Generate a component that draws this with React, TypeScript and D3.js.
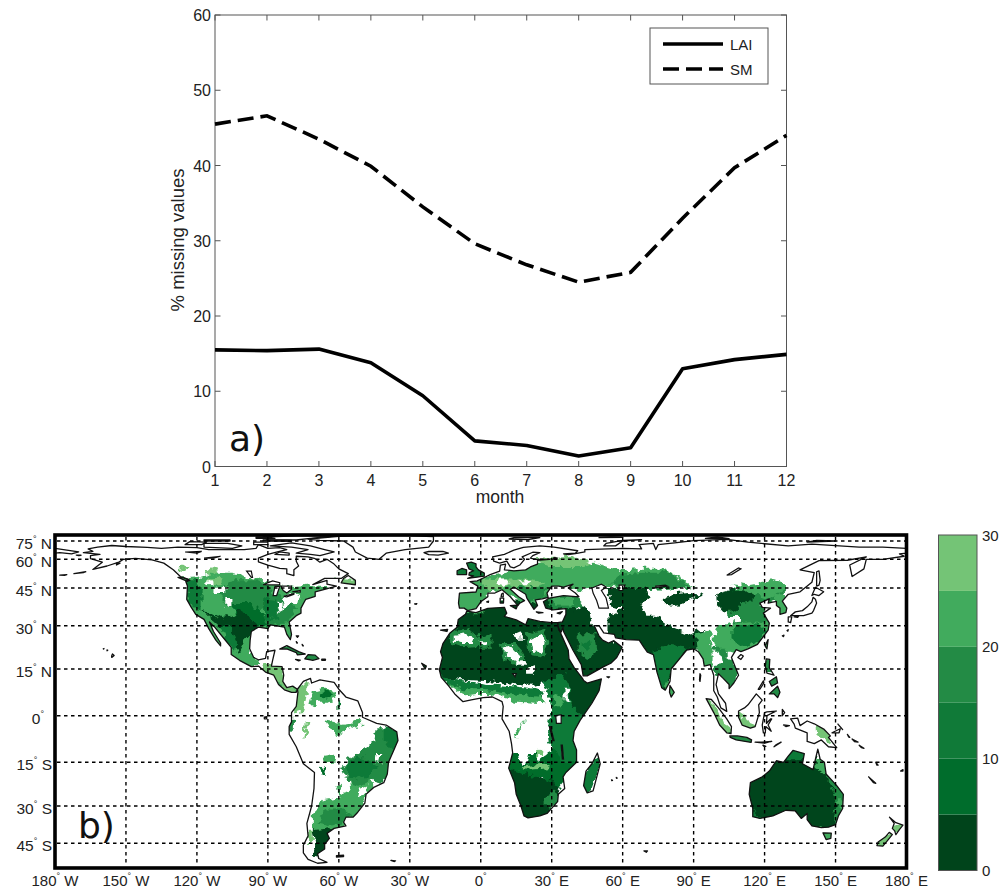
import React from "react";
import * as d3 from "d3";

const months = [1, 2, 3, 4, 5, 6, 7, 8, 9, 10, 11, 12];
const lai = [15.5, 15.4, 15.6, 13.8, 9.4, 3.4, 2.8, 1.4, 2.5, 13.0, 14.2, 14.9];
const sm = [45.5, 46.6, 43.5, 39.9, 34.5, 29.6, 26.8, 24.5, 25.8, 33.0, 39.7, 44.0];
const yTicks = [0, 10, 20, 30, 40, 50, 60];

const lonTicks = [-180, -150, -120, -90, -60, -30, 0, 30, 60, 90, 120, 150, 180];
const latTicks = [75, 60, 45, 30, 15, 0, -15, -30, -45];
const latKnots = [84, 75, 60, 45, 30, 15, 0, -15, -30, -45, -58];
const latPixels = [535, 541, 559.3, 588, 625.7, 669, 715.7, 762.3, 806, 843.3, 868];

const barEdges = [0, 5, 10, 15, 20, 25, 30];
const barTicks = [0, 10, 20, 30];
const palette = ["#00441b", "#006d2c", "#107a38", "#238b45", "#41ab5d", "#74c476"];
type P = number[][];

const continents: P[] = [
  [[-168,65.5],[-164,66.5],[-166,68.5],[-162,70],[-156,71.3],[-150,70.5],[-141,69.7],[-135,69],[-128,70],[-120,69.5],[-115,68],[-108,68],[-100,68],[-95,69],[-94,72],[-90,69],[-85,69.5],[-82,68],[-86,66],[-90,64],[-94,61],[-94,58.7],[-90,57],[-85,55.3],[-82,55],[-82,52.5],[-79,51.5],[-79,54.5],[-77,56.5],[-78,59],[-78,62.5],[-73,62],[-70,60.5],[-68,58.5],[-65,60],[-62,57.5],[-60,55],[-56,52.5],[-59,50],[-66,50],[-71,46.8],[-65,49],[-65,47],[-61,46],[-66,44.5],[-70,43.5],[-70,41.7],[-74,40.5],[-76,37],[-76,35],[-78,34],[-81,31.5],[-80,27],[-80.5,25.2],[-82,27],[-83,29.5],[-85,29.8],[-89,30.3],[-90,29],[-94,29.5],[-97,28],[-97.5,25],[-97.7,22],[-96,19],[-94,18.2],[-91,18.7],[-90.5,21],[-87,21.5],[-88,18],[-88.5,16],[-84,15.8],[-83.3,13],[-83.7,11],[-82,9],[-79.5,9.5],[-77.5,8.5],[-78,7.5],[-80,7.5],[-83,8.3],[-85.5,10],[-87.5,13],[-91,14],[-94,16],[-97,15.8],[-102,18],[-105.5,20],[-105.5,22.5],[-109,26],[-112.5,29.5],[-114.7,31.5],[-113,28],[-110,24],[-110,23],[-112,25],[-115,29],[-117,32.5],[-120.5,34.5],[-122.5,37.5],[-124.3,40.5],[-124,46],[-124.7,48.4],[-123,49],[-127,51],[-130,54.5],[-134,58],[-139,59.7],[-146,60.8],[-151,60],[-153,58.5],[-158,56.5],[-164,54.7],[-160,58.5],[-165,60.5],[-165,63],[-161,64]],
  [[-73,78],[-60,82],[-35,83.5],[-20,81.5],[-20,75],[-22,70],[-32,68],[-40,65],[-43,60],[-48,61],[-53,66],[-54,70],[-58,75],[-68,76]],
  [[-77.5,8.5],[-75,11],[-72,12],[-71.5,10.5],[-68,11.5],[-62,10.7],[-60,8.5],[-57,6],[-52,4.8],[-50,1],[-50,-0.5],[-44,-2.5],[-40,-3],[-35.5,-5.2],[-35,-8],[-37,-11.5],[-39,-15],[-39.5,-19],[-41,-22],[-45,-23.5],[-48.5,-26],[-49,-29],[-52,-32.5],[-54,-34.5],[-57,-34.5],[-58,-36.5],[-57,-38],[-62,-39],[-65,-41],[-64,-43],[-66,-45.5],[-66,-48],[-69,-50.5],[-68.5,-53],[-65,-55],[-69,-55.5],[-73,-53.5],[-75,-50],[-75,-46],[-73,-42],[-73.5,-37],[-71.5,-30],[-70.5,-24],[-70.3,-18.5],[-75,-15.5],[-78,-10],[-81,-6],[-81,-3.5],[-80,-2],[-80,1],[-78,3],[-77.3,7.5]],
  [[-5.9,35.8],[-2,35.2],[3,36.9],[10,37.3],[11,35],[10,33.7],[15,32.3],[19,30.3],[20,32.8],[25,31.7],[30,31.2],[32.5,31.2],[32.6,29.9],[34,27],[37,21.5],[37.3,18.5],[39.5,15.5],[43,12],[43.5,11.3],[45,10.5],[51,11.8],[50,8],[47,4],[42,-1.5],[39.5,-5],[39,-8],[40.5,-11],[40.5,-15],[36,-18.5],[34.8,-20],[35.5,-24],[32.8,-26],[32.5,-28.5],[28,-33],[25,-34],[20,-34.8],[18.3,-34],[17,-30],[15,-26],[14.3,-22],[11.8,-17],[13.5,-12],[13,-9],[12,-5],[9,-1],[9.5,3],[9,4.5],[5,6],[1,5.8],[-4,5.1],[-7.5,4.5],[-11,7],[-13.5,9.5],[-16.7,12.3],[-17.5,14.7],[-16.2,19],[-17,21],[-16,23.8],[-13,27.5],[-10,29.5],[-9.5,32.5],[-6.5,34.5]],
  [[-9,37],[-9.4,39],[-9,43],[-2,43.4],[-1.2,46],[-4.5,48.3],[-1.5,48.7],[1.5,50.5],[4,52],[8,53.8],[8.3,57],[10.5,57.5],[10,54.5],[14,54],[19,54.5],[21,56],[24,57.5],[24,59.5],[29,60],[23,60],[21,61],[22,63],[25,65.5],[22,65.8],[17.5,62],[18.5,60],[16.5,57],[14,55.5],[12.5,56],[11,59],[8,58],[5.5,59],[5,62],[10,64],[14,67.5],[18,69.8],[25,71],[31,70],[41,67],[40,65],[35,64.5],[37,63.9],[40,64.7],[44,66],[44,68],[54,68.5],[60,69],[68,68.5],[67,72],[73,73],[74,68],[75,72],[82,73.5],[90,75.5],[104,77.5],[113,74],[130,71],[140,72.5],[160,70],[170,70],[180,69],[180,65],[177,64.5],[179,62.5],[170,60],[163,60],[162,55],[157,51],[156,57],[163,62],[155,59.5],[143,59.3],[135,54.5],[141,53],[140,48],[135,43.5],[130,42.5],[127.5,39.8],[129.4,37],[129,35.2],[126.5,34.5],[126.5,37],[125,38],[125,39.7],[121.5,39],[122,40.7],[118,39],[119,37.3],[122.5,37],[119.5,35],[122,31],[121.5,28.5],[117,23.5],[113,22],[110,21],[108,21.7],[106,19],[109,13],[107,10.5],[105,8.7],[105,10],[102.5,12],[100.5,13.5],[99.5,10],[100.5,7],[103.5,4],[104,1.4],[101.5,2.5],[100,6],[98.5,8],[98.5,13],[97,16.5],[94.5,16],[94,18.5],[92,21],[90,22],[87,21.5],[85,19.5],[80.5,15],[80,11],[78,8.2],[76.5,9],[74.5,14],[73,20],[70.5,20.8],[69,22.5],[67,25],[61.5,25.2],[57,25.8],[56.5,27],[52,27.5],[50,30],[48,30],[50,26.5],[51.5,25],[54,24],[56.3,24.8],[59.8,22.5],[57.5,19],[55,17],[52,15.8],[45,12.8],[43.3,12.8],[42.5,16.5],[39,21.5],[35,28],[34.8,29.5],[34,27.8],[33,28.5],[32.6,30],[32.5,31.2],[34.5,31.5],[36,34.5],[36,36.8],[30.5,36.3],[27.5,37],[26.5,39.5],[29,41],[35,42],[41.5,41.5],[40,43],[37,45],[39,47],[35,45.5],[33,46],[30,46],[28,43],[28.5,41.3],[26,40.7],[23,40.3],[24,38],[22.5,36.5],[19.5,41],[19,42.5],[14,45.5],[12.5,44.5],[16,41.5],[18.5,40],[16.5,39],[15.7,38],[12.5,41.5],[9,44.3],[6,43],[3,43],[3,41.5],[0,39.5],[-2,36.8],[-5.5,36],[-7,37]],
  [[114,-22],[113.5,-26],[115,-31],[115,-34.3],[118,-35],[123.5,-34],[129,-31.7],[133,-32],[135.5,-35],[138,-33],[138,-35.5],[140,-38],[144,-38.7],[147,-38.5],[150,-37.5],[151.2,-34],[153,-31],[153.3,-26],[150.5,-23],[146,-19],[145.3,-15],[143.5,-14],[142.5,-10.8],[141.5,-14],[140.5,-17.5],[136,-15.5],[136.8,-12.2],[132,-11.2],[130,-13],[128,-15],[125,-14.5],[122,-18],[119,-20]],
];

const islands: P[] = [
  [[-62,66],[-68,63],[-72,64],[-78,65],[-73,68],[-80,70],[-89,71],[-80,73.5],[-72,71],[-66,68]],
  [[-117,70],[-105,69],[-101,71],[-107,73],[-117,73]],[[-125,72],[-118,72],[-116,74],[-123,74.5]],
  [[-90,76.5],[-78,76.5],[-72,79],[-62,82.5],[-75,83],[-92,81]],[[-92,75],[-80,74.7],[-80,75.8],[-92,76.5]],
  [[-117,75],[-106,75],[-106,76.5],[-117,76.5]],[[-95,79],[-87,79],[-90,81],[-95,81]],[[-96,72],[-90,72],[-90,74],[-96,74]],
  [[-87,64],[-81,63.5],[-81,65],[-85,66]],[[-59,47.7],[-53,46.7],[-53,49],[-56,51.5],[-58,50]],[[-128,50.5],[-124,48.5],[-123.5,49.5],[-126,50.5]],
  [[12,78],[20,77],[25,80],[14,80]],[[52,71],[57,71],[60,75],[68,77],[60,76],[53,73]],[[95,79],[105,78.5],[100,81]],[[138,74],[150,75],[142,76]],[[50,80],[60,80.5],[55,81]],
  [[-180,69],[-175,67.5],[-170,66],[-173,64.5],[-178,65.5],[-180,65]],[[-171,63.5],[-169,63.3],[-170,63]],[[-154,57],[-152.5,58],[-154,58]],
  [[-172,52.5],[-167,53.5],[-168,53]],[[-178,51.7],[-175,52],[-176,51.6]],[[-156,19],[-155,19.7],[-155.7,20.2],[-156,19.7]],[[-158,21.3],[-157.7,21.5],[-158,21.6]],[[-159.6,22],[-159.3,22.1],[-159.4,21.9]],
  [[-85,21.9],[-82,23.1],[-77,21],[-74.2,20.2],[-77.5,19.9],[-78,20.7],[-82,22]],[[-74.4,18.5],[-73,20],[-70,19.8],[-68.4,18.6],[-71,18],[-72,18.2]],[[-67.2,18.4],[-65.7,18.4],[-65.7,18],[-67.2,18]],[[-78.3,18.3],[-76.3,18.1],[-77,17.8]],
  [[-78,26.5],[-77,26.5],[-77.5,26]],[[-78,24.5],[-77.5,24],[-77.8,24]],[[-75.5,23.5],[-75,23],[-75.3,23]],
  [[-91.5,-0.5],[-90.5,-0.3],[-90.5,-1],[-91.5,-1]],[[-61,-51.5],[-58,-51.3],[-58,-52],[-61,-52.2]],[[-38,-54],[-36,-54.2],[-36.5,-54.6]],
  [[-17,28.5],[-14,28.7],[-14.3,28]],[[-28,38.7],[-27,38.8],[-27.3,38.5]],[[-25,17],[-23,16],[-23.5,15]],
  [[-24,65.5],[-22,66.4],[-16,66.4],[-13.7,65],[-18,63.5],[-22,63.8]],
  [[-5.5,50],[1.5,51.2],[1.5,52.8],[-1,54.5],[-2,56],[-2,57.6],[-4,58.5],[-6,58],[-5,55],[-3,54],[-4.8,53],[-5,51.7],[-3,51.3]],[[-10,52],[-6,52],[-6,54.5],[-8,55.2],[-10,54]],
  [[8.2,39],[9.6,39],[9.7,41],[8.2,41]],[[8.6,41.5],[9.5,41.5],[9.5,43],[8.8,42.6]],[[12.5,38],[15.6,38.2],[15,36.7]],[[23.5,35.5],[26.3,35.2],[24.5,35]],[[32.3,35],[34.5,35.6],[33.5,34.7]],[[2.5,39.5],[3.3,39.8],[3.2,39.3]],
  [[120.2,23],[121.5,25.2],[121,22]],[[108.7,19],[110,20],[111,19.5],[110,18.3]],
  [[131,34],[133,35.5],[136,36],[138,37.5],[140,39.5],[140.5,41.3],[141.5,40.5],[142,39],[140.7,36],[140,35],[136.5,34],[133,34]],[[140,42],[141.5,45.4],[145,43.5],[143,42],[141,42.5]],[[130,33.5],[131.5,33.5],[131,31.2],[130,31.5]],[[132.5,33.5],[134.5,34],[134,33.3]],[[142,46],[143,46.5],[143.5,49],[143,54],[142,53.5],[142,49]],[[127.5,26.5],[128.2,26.7],[128,26.2]],[[129.5,28.3],[130,28.6],[129.8,28.1]],
  [[120.3,16],[120.7,18.5],[122.2,18.3],[122,15.5],[124,13],[121,13.7]],[[122,7],[125.5,9.5],[126.5,7.5],[125.5,5.8],[124,7]],[[117.3,8.5],[119.5,11.2],[119.7,10.5],[118,8.5]],[[122,11],[125,12.5],[125.5,10.5],[123,9.5]],
  [[95.3,5.5],[97.5,5.2],[100.5,2.5],[104,-1],[106,-3.5],[105.8,-5.8],[104,-5.5],[101,-3],[98.5,1]],[[105.3,-6.5],[108.5,-6.5],[112.5,-7],[114.5,-7.8],[114.3,-8.6],[108,-7.8],[105.5,-7]],
  [[109,1.5],[111.5,2.5],[113,3.5],[116.5,7],[119,5],[117.5,3.5],[117.8,1],[116,-3.5],[114,-4],[110.5,-3],[109,-0.5]],
  [[119.5,-5.5],[119,-3],[120,1],[121,1.2],[125,1.5],[121,0],[120.8,-2.5],[122.5,-1],[123,-1],[121.5,-3],[122.8,-5],[120.5,-3.5],[120.3,-5.5]],
  [[127.5,2],[128.5,1],[127.5,0]],[[128,-3],[130.5,-3.2],[129,-3.5]],[[116,-8.5],[119,-8.5],[123,-8.3],[120,-8.8]],[[124,-10],[127,-8.5],[125,-9.3]],[[119.3,-9.5],[120.5,-9.9],[119.8,-9.9]],
  [[131,-1],[134,-0.8],[135,-3.2],[138,-1.7],[141,-2.6],[145,-4.3],[147.8,-6.5],[147,-7],[150.5,-10.3],[147,-10],[144,-7.8],[141,-9],[138,-8.3],[138,-5.5],[133,-4],[132.5,-2.7]],
  [[148.5,-5.5],[152,-4.2],[151.5,-5.5]],[[151,-2.7],[153,-4.5],[152.5,-4]],[[155,-6],[156,-7],[155.5,-6.8]],[[157,-7.5],[159.5,-8.5],[158,-8.3]],[[160,-9.5],[162,-10.5],[161,-10.3]],
  [[167,-15],[167.5,-16],[168,-16]],[[164,-20],[167,-22.2],[166,-22]],[[177.5,-18],[178.5,-17.5],[178.5,-18]],
  [[172.8,-34.5],[175.5,-36.7],[178.5,-37.7],[177,-39.5],[175.5,-41.5],[175,-40],[174,-39],[174.8,-37]],[[172.7,-40.6],[174,-41.5],[171,-45],[170,-46.5],[167.5,-46.2],[168,-44.5],[171,-42.5]],
  [[144.7,-40.8],[148.2,-40.9],[148,-43],[146,-43.5]],[[69,-49],[70.5,-49],[70,-49.7]],[[57.3,-20.2],[57.7,-20.4],[57.4,-20.5]],[[55.3,-21],[55.7,-21.2],[55.4,-21.3]],[[53.3,12.5],[54.5,12.5],[54,12.2]],
  [[49.3,-12],[50.5,-15.5],[47.5,-24.8],[45,-25.5],[43.5,-23],[44.5,-18],[47,-15.5]],[[80,9.7],[81.8,7.5],[80.5,6],[79.8,7.5]],[[92.7,13.5],[93,13],[92.7,11],[92.5,11.5]],
];

const lakes: P[] = [
  [[47,45],[51,47],[53,45.5],[51,44],[53,41],[54,37],[50,37],[49,40],[47.5,43]],[[58.5,46.5],[61,46.5],[60,44],[58.5,44]],[[104,51.7],[109,55.5],[110,55],[106,52]],[[74,46],[78,46.5],[79,46],[74,45.2]],
  [[-92,46.7],[-88,48.7],[-85,47.8],[-85,46.6],[-88,46.6]],[[-87.8,42],[-86.3,42],[-85,45.8],[-87,45.8]],[[-84.5,46],[-80,46],[-80,44.5],[-82,43],[-83.5,44]],[[-83.3,41.7],[-79,42.8],[-79,42.5],[-82,41.5]],[[-79.7,43.5],[-76.3,44],[-76.3,43.4]],
  [[-125,66],[-118,66.5],[-120,65]],[[-117,61],[-110,62.5],[-113,61]],[[-99,53.8],[-97,53.8],[-96.5,50.5],[-97,50.5]],
  [[31.7,0],[34,0.3],[34,-2.5],[32,-2.5]],[[29,-3.5],[29.5,-3.5],[31,-8],[30.5,-8]],[[34,-9.5],[34.5,-9.5],[35,-14],[34.5,-14]],[[13.5,13.5],[15,13.5],[14.5,12.5]],[[30.5,60],[32.5,61],[31,61.5]],
];

// Missing-value patches: each level is a % reading; NONE leaves the land white.
const A = 2.5, B = 7.5, C = 12.5, D = 17.5, E = 22.5, G = 27.5, NONE = -1;
type Patch = [number, P];
const patchesAmericas: Patch[] = [
  [E, [[-128,50],[-120,50.5],[-114,53],[-105,53],[-97,50.5],[-92,49],[-88,47.5],[-82,46],[-78,45.5],[-72,46.5],[-66,46],[-62,44],[-70,40],[-75,33],[-78,30],[-79,24],[-85,24],[-92,27],[-98,22],[-95,15],[-82,12],[-76,7],[-85,7],[-100,15],[-112,22],[-120,32],[-128,42]]],
  [G, [[-128,55],[-125,54],[-123,56],[-126,57]]],
  [G, [[-117,53],[-113,56],[-111,55],[-112,52]]],
  [D, [[-104,49],[-95,49],[-88,45],[-90,38],[-98,34],[-108,38],[-111,44]]],
  [D, [[-90,42],[-84,42],[-78,37],[-82,31],[-92,30]]],
  [C, [[-126,49],[-120,49],[-118,44],[-118,36],[-123,38]]],
  [C, [[-92,41],[-86,40],[-86,33],[-92,32]]],
  [G, [[-116,50],[-110,50.5],[-109,47],[-115,47]]],
  [B, [[-105,39],[-97,39],[-92,34],[-90,30],[-96,29],[-103,32]]],
  [A, [[-118,36],[-114,35],[-110,33],[-106,34],[-102,36],[-98,34],[-94,30],[-97,27],[-100,24.5],[-102,21],[-105,24],[-108,28],[-113,32]]],
  [C, [[-110,30],[-106,30],[-103,24],[-104,21],[-107,24]]],
  [E, [[-96,21],[-94,16],[-100,16],[-104,19],[-100,20]]],
  [G, [[-91,17],[-84,16],[-83,11],[-78,8],[-82,7],[-87,12],[-92,14]]],
  [NONE, [[-84,41],[-78,43],[-76,42],[-78,39],[-83,37.5]]],
  [NONE, [[-86,38],[-84,39],[-83,36.5],[-85,35.5]]],
  [NONE, [[-108,41],[-105,41],[-105,37.5],[-108,38]]],
  [NONE, [[-113,45],[-108,45.5],[-108,43],[-113,43]]],
  [NONE, [[-116,49],[-113,49],[-113,46.5],[-116,46.5]]],
  [G, [[-62,50],[-52,50],[-52,45],[-60,45]]],
  [D, [[-86,24],[-73,22],[-73,19],[-78,19],[-86,21]]],
  [D, [[-75,21],[-67,21],[-67,17],[-75,17]]],
  [G, [[-78,9],[-73,11],[-74,5],[-75.5,1.5],[-79,1],[-78,5]]],
  [E, [[-71,8],[-66,9],[-62,8],[-61,5.5],[-65,4.5],[-69,4.5],[-70,3],[-72,3.5]]],
  [B, [[-68,7.5],[-64,8],[-62.5,6.5],[-65.5,5.5],[-68,6]]],
  [D, [[-82,-1],[-79,-1],[-79,-4.5],[-82,-4.5]]],
  [C, [[-60.6,5],[-59.5,5],[-59.4,2],[-60.6,2]]],
  [E, [[-66,-1.5],[-62,-2],[-59,-3],[-55,-2.5],[-51,-1],[-50,-2.8],[-55,-4],[-59,-5.2],[-61,-6.5],[-64,-3.5]]],
  [G, [[-74,-2],[-72.5,-2],[-74,-7],[-75,-7]]],
  [E, [[-67,-13],[-63,-12.5],[-61.5,-15],[-66,-15.5]]],
  [E, [[-61,-23],[-54,-20],[-46,-21],[-45,-25],[-50,-29],[-55,-29],[-60,-27]]],
  [D, [[-56,-14],[-50,-11],[-45,-8],[-44,-4],[-36,-4],[-33,-8],[-37,-13],[-38,-18],[-42,-22],[-47,-21],[-52,-23],[-56,-22],[-59,-17]]],
  [C, [[-58,-16],[-52,-13],[-47,-14],[-44,-17],[-47,-20],[-53,-21],[-56,-19]]],
  [C, [[-41,-3],[-35,-4.5],[-34,-9],[-38,-11],[-41,-8]]],
  [B, [[-68,-16.5],[-65,-17],[-65.5,-20],[-67,-19.5]]],
  [NONE, [[-44,-12],[-42,-12],[-42.5,-15.5],[-44.5,-15]]],
  [NONE, [[-60,-20],[-56,-20],[-55,-25],[-59,-26]]],
  [NONE, [[-51,-24],[-48,-23],[-49,-26],[-52,-27]]],
  [G, [[-73,-40],[-71,-40],[-71,-44],[-73,-45]]],
  [E, [[-67,-28],[-59,-27],[-54,-27],[-49,-28],[-51,-34],[-54,-36],[-58,-38],[-62,-40],[-66,-42],[-71,-40],[-71,-33],[-69,-30]]],
  [D, [[-66,-31],[-58,-31],[-54,-34],[-59,-37],[-64,-38],[-69,-37]]],
  [A, [[-71,-39.5],[-64,-38.5],[-61,-40],[-64,-43],[-63,-45],[-65,-48],[-67,-53],[-71,-52],[-70,-46]]],
];
const patchesAfrica: Patch[] = [
  [E, [[-24,14],[-3,9.5],[5,8.5],[15,8],[25,7],[27,4],[15,4.5],[5,7],[-2,7],[-6,6.5],[-10,8],[-14,10]]],
  [C, [[-24,14],[-5,11],[5,10],[20,9],[27,8],[26,6],[12,7],[0,8.5],[-8,8.5],[-15,10.5]]],
  [A, [[-26,40],[40,40],[40,11],[20,9.5],[5,11],[-5,11.5],[-26,13.5]]],
  [D, [[-13,28],[-5,29],[-1,27],[-1,23],[-8,22.5],[-13,24]]],
  [D, [[-2,26],[5,27],[5,22],[-1,22]]],
  [D, [[8,24],[14,24],[19,19],[16,16],[10,18]]],
  [D, [[19,27],[27,29],[29,24],[27,19],[21,20]]],
  [NONE, [[-11,26.5],[-6,27],[-3,25.5],[-4,24],[-8,24],[-11,25]]],
  [NONE, [[0,25],[3,25],[3,23],[0,23.5]]],
  [NONE, [[9.5,22],[13,23],[17,19.5],[15,17.5],[11,19]]],
  [NONE, [[21,25],[26,27],[27,24],[26,21],[22,21]]],
  [NONE, [[14,27.5],[17,28],[18,25.5],[15,25.5]]],
  [NONE, [[15,18],[19,18],[19,16.5],[15,16.5]]],
  [NONE, [[20,15],[23,16],[22,13.5],[20,13.5]]],
  [C, [[26,11],[40,15],[52,12],[45,-2],[42,-6],[42,-15],[37,-19],[33,-16],[31,-13],[29,-9],[28,-5],[30,2],[29,6]]],
  [A, [[34,16],[41,15],[54,12],[49,4],[44,-1],[39,3],[38,8]]],
  [NONE, [[35,9],[37,9],[37.5,4],[35,5]]],
  [E, [[31,7],[35,6],[34,3],[31,3]]],
  [B, [[10,-16],[13,-12],[16,-12],[17,-15.5],[20,-15],[21,-12],[23,-12],[24,-15],[29,-12],[32,-11],[34,-15],[41,-15],[37,-20],[33,-24],[30,-24],[26,-20],[12,-20]]],
  [G, [[17,-16],[27,-15.5],[29,-17],[22,-17.5],[17,-17.5]]],
  [A, [[9,-20],[13,-17.5],[18,-19],[25,-20],[31,-22],[34,-26],[30,-31],[29,-36],[19,-37],[13,-30],[11,-24]]],
  [D, [[27,-27],[31,-25],[34,-27],[29,-32],[27,-30]]],
  [E, [[18,-2],[19,-1],[15,-7],[14,-6]]],
  [G, [[23,-11],[26,-11],[26,-13],[23,-13]]],
  [C, [[42,-24],[46,-26],[49,-19],[51,-13],[47,-15],[44,-18]]],
];
const patchesEurasia: Patch[] = [
  [E, [[-2,50],[7,52],[21,57],[29,61],[35,60],[49,58],[59,54],[69,55],[77,55],[85,50],[90,45.5],[75,44],[60,45],[50,46],[42,44],[30,45],[28,40],[20,38],[12,42],[7,44],[-2,43],[-5,48]]],
  [E, [[-11,45],[3,44],[1,35],[-11,35]]],
  [D, [[60,52],[69,53],[80,53],[86,48],[88,45.5],[76,44],[62,45],[55,47]]],
  [G, [[22,60],[38,62],[48,58],[44,56],[30,56]]],
  [G, [[-1,49],[8,50],[20,50],[28,47],[22,45],[10,46],[4,44]]],
  [C, [[-12,50],[2,50],[2,60],[-12,60]]],
  [NONE, [[7,50],[11,50],[13,47],[9,46],[6,47]]],
  [NONE, [[16,49],[21,49],[20,47],[17,47]]],
  [D, [[26,42],[42,42],[44,37],[36,37],[30,36.5]]],
  [E, [[31,41],[39,41],[39,38],[31,38]]],
  [D, [[15,46],[28,45],[26,41],[20,39],[17,42]]],
  [NONE, [[41,44],[50,43],[52,38],[55,32],[57,27],[52,28],[48,31],[46,35],[42,40]]],
  [A, [[34,33],[44,38],[46,36],[47,31],[50,27],[54,25],[62,22.5],[58,14],[45,10],[40,14],[35,24],[32,29]]],
  [D, [[41,27],[48,27],[49,21],[45,18.5],[41,21]]],
  [C, [[43,24],[46,25],[47,22],[44,21]]],
  [A, [[52,45],[60,45],[70,45],[71,41],[66,37],[62,37],[57,37],[54,38],[55,42]]],
  [A, [[54,34],[62,38],[68,38],[70,34],[74,34],[80,30],[88,27.3],[95,28.5],[93,25],[91,21],[85,17],[80,12],[77,6],[72,14],[70,20],[64,23],[58,23],[54,28]]],
  [C, [[72,21],[80,23],[87,22.5],[84,18],[80,13],[77,7.5],[75,11],[73,15]]],
  [NONE, [[72,38],[77,36.5],[74,34.5],[70,36]]],
  [A, [[77,41],[81,42.5],[88,43],[94,42.2],[90,40.5],[85,38.5],[80,38],[77,39.5]]],
  [D, [[100,42],[107,44.5],[112,46],[118,46],[124,49],[127,48],[129,44],[126,41],[122,39],[118,38],[121,32],[117,29],[108,30],[103,36]]],
  [E, [[106,47.5],[113,46.5],[118,47.5],[124,49],[128,48],[129,44],[120,41],[110,44]]],
  [E, [[124,43],[129,42],[130,34],[125,34]]],
  [A, [[99.5,42.5],[105,44],[112,44.5],[116,42],[113,39.5],[107,36],[103,35],[100,38]]],
  [D, [[110,39.5],[118,38.5],[122,33],[112,31.5],[109,35]]],
  [NONE, [[104,33.5],[110,33.5],[110,32],[104,31.5]]],
  [E, [[102,30],[108,31],[122,32],[124,28],[118,22],[110,20],[106,21],[100,21],[98,26],[100,30]]],
  [C, [[106,29],[117,31],[121,28],[116,24],[110,22.5],[106,25]]],
  [D, [[99,20],[99,14],[103,9],[107,10],[109,14],[108,16],[105,19],[103,22],[98,22]]],
  [NONE, [[98,21],[101,21],[102,16.5],[99,16]]],
  [NONE, [[104,21],[106,20],[106,18],[104,19]]],
  [E, [[91,27],[97,28],[98,23],[98,16],[94,15],[92,20]]],
  [E, [[78,11],[83,11],[83,5],[78,5]]],
];
const patchesPacific: Patch[] = [
  [G, [[94,6],[100,2],[102,-2],[107,-5],[103,-6],[98,0]]],
  [D, [[104,-5.5],[116,-6],[116,-9.5],[104,-8.5]]],
  [G, [[108,2],[110,-4],[117,-5],[117,-3],[112,-1.5],[110,1]]],
  [G, [[141,-1],[148,-6],[148,-9],[142,-6]]],
  [D, [[119,19],[123,19],[123,14],[119,14]]],
  [E, [[119,27],[122,27],[122,21],[119,21]]],
  [D, [[122,12],[127,13],[127,5],[122,6]]],
  [A, [[110,-21],[120,-14],[128,-12],[131,-9],[140,-9],[143,-15],[148,-18],[156,-26],[156,-41],[143,-41],[138,-38],[112,-38]]],
  [C, [[127,-13],[132,-9],[137,-9],[137,-14],[131,-14]]],
  [C, [[110,-30],[115,-30],[119,-37],[110,-37]]],
  [D, [[146,-19],[151,-23],[156,-27],[156,-40],[149,-40],[149,-35],[151,-30],[149,-25]]],
  [E, [[151,-28],[156,-28],[156,-38],[152,-38]]],
  [E, [[142,-9],[146,-10],[147,-18],[145,-19],[142,-17]]],
  [NONE, [[142,-11],[143,-11],[143,-14],[142,-14]]],
  [E, [[142,-39],[150,-39],[150,-44],[144,-44]]],
  [G, [[166,-47],[171,-47],[176,-41],[178,-40],[179,-37],[174,-38],[172,-41],[167,-44]]],
];
const patches: Patch[] = [...patchesAmericas, ...patchesAfrica, ...patchesEurasia, ...patchesPacific];

const W = 999, H = 890;
const F = "'Liberation Sans', Arial, sans-serif";

export default function App() {
  const x = d3.scaleLinear().domain([1, 12]).range([215, 786.5]);
  const y = d3.scaleLinear().domain([0, 60]).range([466.5, 15]);
  const line = d3.line<number>().x((_, i) => x(months[i])).y((d) => y(d));

  const lonX = d3.scaleLinear().domain([-180, 180]).range([55, 906.5]);
  const latY = d3.scaleLinear().domain(latKnots).range(latPixels);
  const geo = d3.line<number[]>().x((d) => lonX(d[0])).y((d) => latY(d[1])).curve(d3.curveLinearClosed);
  const bar = d3.scaleLinear().domain([0, 30]).range([870.5, 535]);
  const color = d3.scaleThreshold<number, string>().domain(barEdges.slice(1, -1)).range(palette);
  const land = [...continents, ...islands];

  const deg = (v: string, suffix: string) => (
    <>
      {v}
      <tspan fontSize={9} dy={-7}>°</tspan>
      <tspan dy={7}>{suffix ? " " + suffix : ""}</tspan>
    </>
  );

  return (
    <svg width={W} height={H} style={{ position: "absolute", left: 0, top: 0, background: "#fff" }}>
      <defs>
        <clipPath id="map"><rect x={55} y={535} width={851.5} height={333} /></clipPath>
        <clipPath id="land">{land.map((p, i) => <path key={i} d={geo(p) || ""} />)}</clipPath>
        <filter id="soft" filterUnits="userSpaceOnUse" x={40} y={525} width={880} height={350}>
          <feTurbulence type="fractalNoise" baseFrequency={0.16} numOctaves={2} seed={4} result="n" />
          <feDisplacementMap in="SourceGraphic" in2="n" scale={9} xChannelSelector="R" yChannelSelector="G" />
          <feGaussianBlur stdDeviation={0.5} />
        </filter>
      </defs>

      {/* panel a */}
      <rect x={215} y={15} width={571.5} height={451.5} fill="#fff" stroke="#555" strokeWidth={1} />
      {months.map((m) => (
        <g key={m}>
          <line x1={x(m)} x2={x(m)} y1={466.5} y2={461} stroke="#555" />
          <line x1={x(m)} x2={x(m)} y1={15} y2={20.5} stroke="#555" />
          <text x={x(m)} y={486} fontFamily={F} fontSize={16} textAnchor="middle" fill="#222">{m}</text>
        </g>
      ))}
      {yTicks.map((t) => (
        <g key={t}>
          <line x1={215} x2={220.5} y1={y(t)} y2={y(t)} stroke="#555" />
          <line x1={786.5} x2={781} y1={y(t)} y2={y(t)} stroke="#555" />
          <text x={211} y={y(t) + 6} fontFamily={F} fontSize={16} textAnchor="end" fill="#222">{t}</text>
        </g>
      ))}
      <path d={line(lai) || ""} fill="none" stroke="#000" strokeWidth={3.6} strokeLinejoin="round" />
      <path d={line(sm) || ""} fill="none" stroke="#000" strokeWidth={3.6} strokeDasharray="16 7" />
      <text x={500} y={503} fontFamily={F} fontSize={17.5} textAnchor="middle" fill="#222">month</text>
      <text transform="translate(184,240) rotate(-90)" fontFamily={F} fontSize={18.5} textAnchor="middle" fill="#222">% missing values</text>
      <rect x={650} y={28} width={118} height={56} fill="#fff" stroke="#555" />
      <line x1={663} x2={723} y1={44} y2={44} stroke="#000" strokeWidth={3.6} />
      <line x1={663} x2={723} y1={69} y2={69} stroke="#000" strokeWidth={3.6} strokeDasharray="16 7" />
      <text x={730} y={50} fontFamily={F} fontSize={15} fill="#222">LAI</text>
      <text x={730} y={75} fontFamily={F} fontSize={15} fill="#222">SM</text>
      <text x={229} y={451} fontFamily="'DejaVu Sans', sans-serif" fontSize={36} fill="#111">a)</text>

      {/* panel b */}
      <g clipPath="url(#map)">
        <g clipPath="url(#land)">
          <g filter="url(#soft)">
            {patches.map(([level, p], i) => (
              <path key={i} d={geo(p) || ""} fill={level < 0 ? "#fff" : color(level)} />
            ))}
          </g>
        </g>
        {land.map((p, i) => <path key={i} d={geo(p) || ""} fill="none" stroke="#111" strokeWidth={1.3} strokeLinejoin="round" />)}
        {lakes.map((p, i) => <path key={i} d={geo(p) || ""} fill="#fff" stroke="#111" strokeWidth={1.2} />)}
        {lonTicks.slice(1, -1).map((t) => (
          <line key={t} x1={lonX(t)} x2={lonX(t)} y1={537} y2={866} stroke="#000" strokeWidth={1.4} strokeDasharray="3.5 3.5" />
        ))}
        {latTicks.map((t) => (
          <line key={t} x1={57} x2={905} y1={latY(t)} y2={latY(t)} stroke="#000" strokeWidth={1.4} strokeDasharray="3.5 3.5" />
        ))}
      </g>
      <rect x={55} y={535} width={851.5} height={333} fill="none" stroke="#000" strokeWidth={3.6} />
      {lonTicks.map((t) => (
        <text key={t} x={lonX(t)} y={886} fontFamily={F} fontSize={15} textAnchor="middle" fill="#222">
          {deg(String(Math.abs(t)), t === 0 ? "" : t < 0 ? "W" : "E")}
        </text>
      ))}
      {latTicks.map((t) => (
        <text key={t} x={t === 0 ? 44 : 52} y={latY(t) + 8} fontFamily={F} fontSize={15.5} textAnchor="end" fill="#222">
          {deg(String(Math.abs(t)), t === 0 ? "" : t > 0 ? "N" : "S")}
        </text>
      ))}
      <text x={78} y={838} fontFamily="'DejaVu Sans', sans-serif" fontSize={36} fill="#111">b)</text>

      {/* colour bar */}
      {palette.map((c, i) => (
        <rect key={c} x={938.5} y={bar(barEdges[i + 1])} width={38.5} height={bar(barEdges[i]) - bar(barEdges[i + 1])} fill={c} />
      ))}
      <rect x={938.5} y={535} width={38.5} height={335.5} fill="none" stroke="#555" />
      {barTicks.map((t) => (
        <text key={t} x={982} y={bar(t) + 5.5} fontFamily={F} fontSize={15} fill="#222">{t}</text>
      ))}
    </svg>
  );
}
